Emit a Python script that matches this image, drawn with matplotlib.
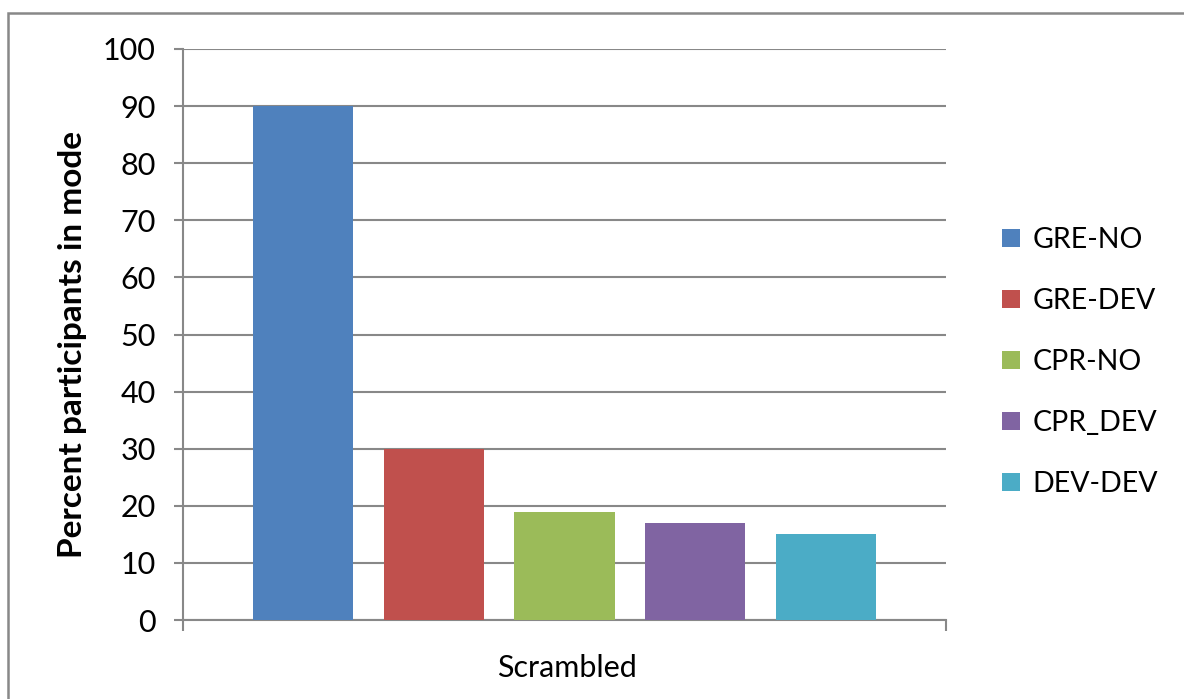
import matplotlib.pyplot as plt
from matplotlib.patches import Rectangle, Patch

# mode counts for the scrambled condition
groups = ['GRE-NO', 'GRE-DEV', 'CPR-NO', 'CPR_DEV', 'DEV-DEV']
percent = [90, 30, 19, 17, 15]
colors = ['#4F81BD', '#C0504D', '#9BBB59', '#8064A2', '#4BACC6']
category = 'Scrambled'
yticks = list(range(0, 101, 10))

plt.rcParams['font.family'] = ['Lato', 'DejaVu Sans']
grid_c = '#888888'

fig = plt.figure(figsize=(11.84, 6.99), dpi=100)
ax = fig.add_axes([183 / 1184, 79 / 699, 763 / 1184, 571 / 699])

xs = list(range(len(groups)))
ax.bar(xs, percent, width=0.77, color=colors, zorder=3)

ax.set_ylim(0, 100)
ax.set_xlim(-0.92, 4.92)
ax.set_yticks(yticks)
ax.yaxis.grid(True, color=grid_c, lw=1.5, zorder=0)
ax.tick_params(axis='y', direction='out', length=6.5, width=1.5, color=grid_c,
               labelsize=22, pad=13)
ax.set_xticks([-0.92, 4.92])
ax.set_xticklabels(['', ''])
ax.tick_params(axis='x', direction='out', length=8, width=1.5, color=grid_c)
for s in ['top', 'right']:
    ax.spines[s].set_visible(False)
for s in ['left', 'bottom']:
    ax.spines[s].set_color(grid_c)
    ax.spines[s].set_linewidth(1.5)

fig.text(73 / 1184, 1 - 345 / 699, 'Percent participants in mode',
         fontsize=24, fontweight='bold', rotation=90,
         ha='center', va='center')
fig.text(567 / 1184, 1 - 668 / 699, category, fontsize=22,
         ha='center', va='center')

handles = [Patch(facecolor=c, edgecolor='none') for c in colors]
fig.legend(handles, groups, loc='center left',
           bbox_to_anchor=(1002 / 1184, 1 - 362 / 699),
           frameon=False, fontsize=20.5, borderpad=0, borderaxespad=0,
           handlelength=0.63, handleheight=0.63, handletextpad=0.45,
           labelspacing=1.23)

# chart area border
fig.patches.append(Rectangle((8 / 1184, -0.2), 1.2, 1.2 - 13 / 699,
                             transform=fig.transFigure, fill=False,
                             edgecolor=grid_c, lw=1.8))

fig.savefig('out.png', dpi=100, facecolor='white')
